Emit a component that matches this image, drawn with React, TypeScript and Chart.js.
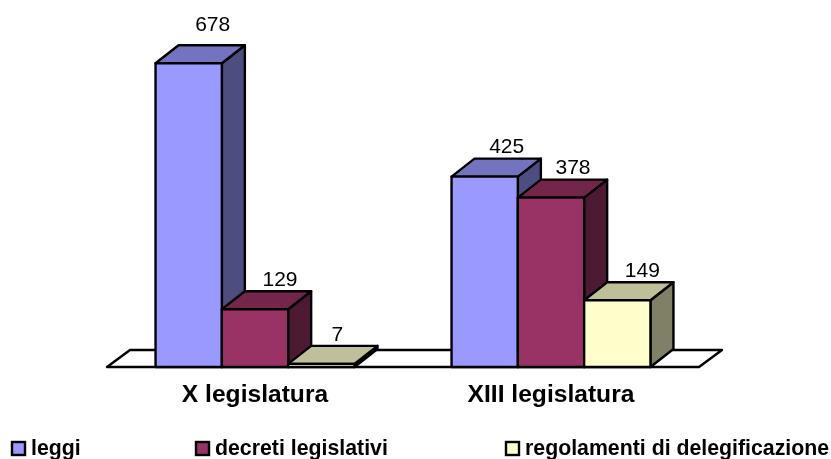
import React, { useEffect, useRef } from "react";
import { Chart, registerables } from "chart.js";

Chart.register(...registerables);

const categories = ["X legislatura", "XIII legislatura"];
const seriesNames = ["leggi", "decreti legislativi", "regolamenti di delegificazione"];
const leggi = [678, 425];
const decreti = [129, 378];
const regolamenti = [7, 149];

const frontColors = ["#9999FF", "#993366", "#FFFFCC"];
const sideColors = ["#4D4D80", "#4D1A33", "#808066"];
const topColors = ["#7373BF", "#732649", "#BFBF99"];
const legendBoxX = [12, 196, 506];
const labelShiftX = [
  [2, 0],
  [3, 0],
  [-6, 3],
];

const FONT = '"Liberation Sans", Arial, sans-serif';
const DX = 23;
const DY = 18;
const LINE = 2.4;

const poly = (ctx: CanvasRenderingContext2D, pts: number[][], fill: string | null) => {
  ctx.beginPath();
  pts.forEach((p, i) => (i ? ctx.lineTo(p[0], p[1]) : ctx.moveTo(p[0], p[1])));
  ctx.closePath();
  if (fill) {
    ctx.fillStyle = fill;
    ctx.fill();
  }
  ctx.stroke();
};

const box3d = {
  id: "box3d",
  beforeDatasetsDraw(chart: any) {
    const { ctx, chartArea: a } = chart;
    ctx.save();
    ctx.strokeStyle = "#000";
    ctx.lineWidth = LINE;
    ctx.lineJoin = "round";
    poly(
      ctx,
      [
        [a.left, a.bottom],
        [a.left + DX, a.bottom - DY + 1],
        [a.right + DX, a.bottom - DY + 1],
        [a.right, a.bottom],
      ],
      "#FFFFFF"
    );
    chart.data.datasets.forEach((_: any, i: number) => {
      chart.getDatasetMeta(i).data.forEach((el: any) => {
        const { x, y, base, width } = el.getProps(["x", "y", "base", "width"], true);
        const l = x - width / 2;
        const r = x + width / 2;
        poly(ctx, [[r, y], [r + DX, y - DY], [r + DX, base - DY], [r, base]], sideColors[i]);
        poly(ctx, [[l, y], [l + DX, y - DY], [r + DX, y - DY], [r, y]], topColors[i]);
        el.draw(ctx);
        ctx.strokeRect(l, y, width, base - y);
      });
    });
    ctx.restore();
  },
  beforeDatasetDraw() {
    return false;
  },
  afterDatasetsDraw(chart: any) {
    const { ctx } = chart;
    const tallest = Math.max(...leggi);
    ctx.save();
    ctx.fillStyle = "#000";
    ctx.font = `21px ${FONT}`;
    ctx.textAlign = "center";
    ctx.textBaseline = "middle";
    chart.data.datasets.forEach((ds: any, i: number) => {
      chart.getDatasetMeta(i).data.forEach((el: any, j: number) => {
        const { x, y } = el.getProps(["x", "y"], true);
        const v = ds.data[j];
        ctx.fillText(String(v), x + DX - 1 + labelShiftX[i][j], y - DY - (v === tallest ? 20 : 11));
      });
    });
    ctx.restore();
  },
  afterDraw(chart: any) {
    const { ctx } = chart;
    ctx.save();
    ctx.textAlign = "left";
    ctx.textBaseline = "middle";
    chart.data.datasets.forEach((ds: any, i: number) => {
      const bx = legendBoxX[i];
      ctx.fillStyle = frontColors[i];
      ctx.strokeStyle = "#000";
      ctx.lineWidth = LINE;
      ctx.fillRect(bx, 442, 13, 13);
      ctx.strokeRect(bx, 442, 13, 13);
      ctx.fillStyle = "#000";
      ctx.font = `bold 21.3px ${FONT}`;
      ctx.fillText(ds.label, bx + 19, 449);
    });
    ctx.restore();
  },
};

export default function App() {
  const ref = useRef<HTMLCanvasElement | null>(null);
  useEffect(() => {
    if (!ref.current) return;
    const seriesValues = [leggi, decreti, regolamenti];
    const chart = new Chart(ref.current, {
      type: "bar",
      data: {
        labels: categories,
        datasets: seriesNames.map((label, i) => ({
          label,
          data: seriesValues[i],
          backgroundColor: frontColors[i],
          borderWidth: 0,
          categoryPercentage: 0.672,
          barPercentage: 1,
        })),
      },
      options: {
        responsive: false,
        animation: false,
        layout: { padding: { left: 107, right: 132, top: 22, bottom: 0 } },
        plugins: { legend: { display: false }, tooltip: { enabled: false } },
        scales: {
          x: {
            grid: { display: false },
            border: { display: false },
            afterFit: (scale: any) => {
              scale.height = 92;
            },
            ticks: {
              color: "#000",
              padding: 5,
              maxRotation: 0,
              autoSkip: false,
              font: { family: FONT, size: 24.6, weight: "bold" },
            },
          },
          y: { display: false, min: 0, max: 770 },
        },
      },
      plugins: [box3d],
    } as any);
    return () => chart.destroy();
  }, []);
  return (
    <div style={{ position: "absolute", left: 0, top: 0 }}>
      <canvas ref={ref} width={831} height={459} style={{ display: "block" }} />
    </div>
  );
}
